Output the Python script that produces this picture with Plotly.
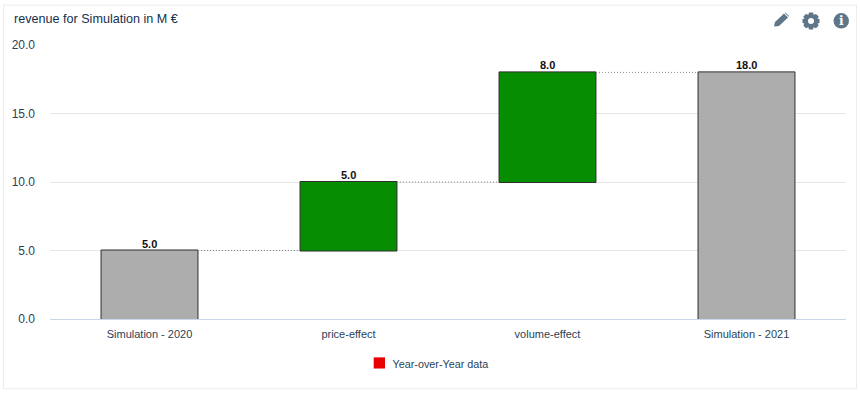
import plotly.graph_objects as go

categories = ["Simulation - 2020", "price-effect", "volume-effect", "Simulation - 2021"]
values = [5.0, 5.0, 8.0, 18.0]
measures = ["absolute", "relative", "relative", "total"]
labels = ["5.0", "5.0", "8.0", "18.0"]
y_ticks = [0, 5, 10, 15, 20]
y_tick_labels = ["0.0", "5.0", "10.0", "15.0", "20.0"]

W, H = 860, 393
L, R, T, B = 50, 14, 44.5, 73.5
TXT = "#2b3f57"
FONT = "Liberation Sans"


def px(x):
    return (x - L) / (W - L - R)


def py(y):
    return 1 - (y - T) / (H - T - B)


def poly(points):
    return "M" + " L".join(f"{px(a):.5f},{py(b):.5f}" for a, b in points) + " Z"


fig = go.Figure()
fig.add_trace(go.Waterfall(
    x=categories, y=values, measure=measures,
    cliponaxis=False,
    width=0.487,
    increasing=dict(marker=dict(color="#078d00", line=dict(color="#2e2e2e", width=1))),
    decreasing=dict(marker=dict(color="#e60000", line=dict(color="#2e2e2e", width=1))),
    totals=dict(marker=dict(color="#adadad", line=dict(color="#2e2e2e", width=1))),
    connector=dict(line=dict(color="#888888", width=1, dash="1px,2px")),
    showlegend=False, hoverinfo="skip",
))
# legend entry: the swatch sits closer to the text than plotly allows, so it is drawn as a shape below
fig.add_trace(go.Scatter(
    x=[None], y=[None], mode="markers", name="Year-over-Year data",
    marker=dict(symbol="square", size=11, color="rgba(230,0,0,0)"),
))

shapes = [
    dict(type="rect", xref="paper", yref="paper", layer="below",
         x0=px(3.5), x1=px(856.5), y0=py(389.5), y1=py(4.5),
         line=dict(color="#ececec", width=1), fillcolor="white"),
    # legend swatch
    dict(type="rect", xref="paper", yref="paper", line=dict(width=0), fillcolor="#e60000",
         x0=px(373.7), x1=px(385), y0=py(369.2), y1=py(358)),
    # pencil
    dict(type="path", xref="paper", yref="paper", line=dict(width=0), fillcolor="#5f7689",
         path=poly([(774, 26), (775, 21.5), (784, 13), (788, 17), (779, 25.5)])),
    dict(type="path", xref="paper", yref="paper", line=dict(width=0), fillcolor="#5f7689",
         path=poly([(785, 12), (786.5, 13), (789, 15.5), (788.7, 16.2), (785, 12.6)])),
    # gear
    dict(type="path", xref="paper", yref="paper", line=dict(width=0), fillcolor="#5f7689",
         path=poly([(809, 12), (813, 12), (813.6, 14.2), (816, 13.3), (818.7, 16), (817.6, 18.2),
                    (819.5, 18.5), (819.5, 22.5), (817.6, 22.8), (818.7, 25), (816, 27.7),
                    (813.6, 26.8), (813, 29), (809, 29), (808.4, 26.8), (806, 27.7), (803.3, 25),
                    (804.4, 22.8), (802.5, 22.5), (802.5, 18.5), (804.4, 18.2), (803.3, 16),
                    (806, 13.3), (808.4, 14.2)])),
    dict(type="circle", xref="paper", yref="paper", line=dict(width=0), fillcolor="white",
         x0=px(808), x1=px(814), y0=py(23.5), y1=py(17.5)),
    # info disc
    dict(type="circle", xref="paper", yref="paper", line=dict(width=0), fillcolor="#5f7689",
         x0=px(833.5), x1=px(849), y0=py(28), y1=py(12.5)),
]

# value labels sit just above each bar's top
tops, running = [], 0.0
for v, m in zip(values, measures):
    running = v if m in ("absolute", "total") else running + v
    tops.append(running)
annotations = [
    dict(x=c, y=t, xref="x", yref="y", text=f"<b>{s}</b>", showarrow=False,
         xanchor="center", yanchor="bottom", yshift=-1,
         font=dict(family=FONT, size=11, color="#111111"))
    for c, t, s in zip(categories, tops, labels)
]
annotations.append(dict(text="<b>i</b>", xref="paper", yref="paper", x=px(841.2), y=py(20.3),
                        xanchor="center", yanchor="middle",
                        showarrow=False, font=dict(family="DejaVu Serif", size=12, color="white")))

fig.update_layout(
    width=W, height=H,
    margin=dict(l=L, r=R, t=T, b=B, autoexpand=False),
    paper_bgcolor="white", plot_bgcolor="rgba(0,0,0,0)",
    font=dict(family=FONT, size=11, color=TXT),
    title=dict(text="revenue for Simulation in M €", x=14 / W, xanchor="left",
               y=1 - 19 / H, yanchor="middle",
               font=dict(family=FONT, size=12.6, color="#15304d")),
    shapes=shapes,
    annotations=annotations,
    showlegend=True,
    legend=dict(orientation="h", x=px(430.5), xanchor="center", y=py(364), yanchor="middle",
                indentation=-15,
                font=dict(family=FONT, size=10.8, color=TXT), bgcolor="rgba(0,0,0,0)",
                itemclick=False, itemdoubleclick=False),
    xaxis=dict(type="category", categoryorder="array", categoryarray=categories,
               range=[-0.5, 3.5], showgrid=False, zeroline=False, showline=False,
               ticks="", tickfont=dict(family=FONT, size=11, color=TXT), ticklabelstandoff=7),
    yaxis=dict(range=[0, 20], tickvals=y_ticks, ticktext=y_tick_labels,
               showgrid=True, gridcolor="#e6e6e6", gridwidth=1, zeroline=True,
               zerolinecolor="#ccd6eb", zerolinewidth=1, showline=False, ticks="",
               tickfont=dict(family=FONT, size=12, color=TXT), ticklabelstandoff=14),
)

fig.write_html("out.html", config=dict(displayModeBar=False),
               post_script="document.body.style.margin='0';")
